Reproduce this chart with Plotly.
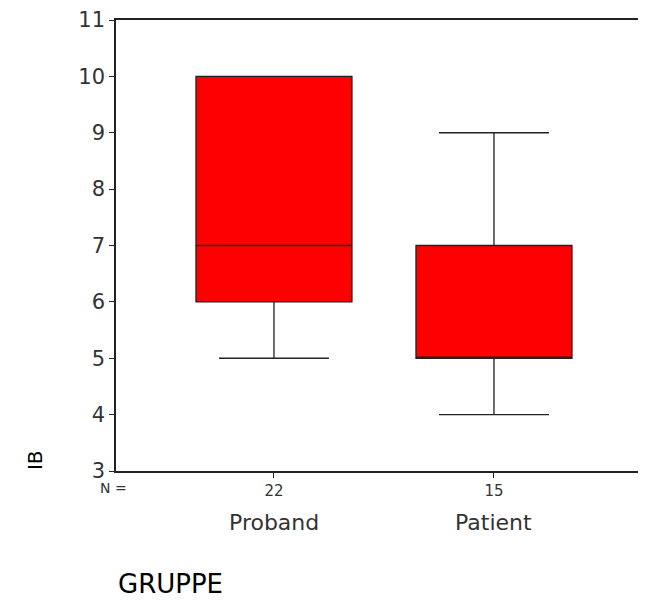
import plotly.graph_objects as go

groups = ["Proband", "Patient"]
n_values = [22, 15]
positions = [0, 1]
lower_fence = [5, 4]
q1 = [6, 5]
median = [7, 5]
q3 = [10, 7]
upper_fence = [10, 9]
y_ticks = [3, 4, 5, 6, 7, 8, 9, 10, 11]

FONT = "DejaVu Sans"
LABEL_COLOR = "#333333"

fig = go.Figure()
fig.add_trace(go.Box(
    x=positions,
    q1=q1, median=median, q3=q3,
    lowerfence=lower_fence, upperfence=upper_fence,
    boxpoints=False,
    width=0.709,
    whiskerwidth=0.705,
    fillcolor="#ff0000",
    line=dict(color="#222222", width=1.3),
    hoverinfo="skip",
    showlegend=False,
))

# page body adds an 8px offset, so the figure is 8px smaller and margins shifted
fig.update_layout(
    width=638, height=593,
    margin=dict(l=108, r=0, t=10, b=130),
    paper_bgcolor="white", plot_bgcolor="white",
    font=dict(family=FONT, color=LABEL_COLOR),
    xaxis=dict(
        range=[-0.718, 1.691],
        tickvals=positions,
        ticktext=[str(v) for v in n_values],
        ticks="outside", ticklen=5, tickwidth=1.3, tickcolor="#222222",
        showline=True, linecolor="#222222", linewidth=1.5,
        mirror=True, showgrid=False, zeroline=False,
        tickfont=dict(size=15, color=LABEL_COLOR, family=FONT),
    ),
    yaxis=dict(
        range=[3, 11],
        tickvals=y_ticks,
        ticks="outside", ticklen=5, tickwidth=1.3, tickcolor="#222222",
        showline=True, linecolor="#222222", linewidth=1.5,
        showgrid=False, zeroline=False,
        ticklabeloverflow="allow",
        tickfont=dict(size=21, color=LABEL_COLOR, family=FONT),
    ),
)

annotations = []
for pos, name in zip(positions, groups):
    annotations.append(dict(
        x=pos, xref="x", y=0, yref="paper", yshift=-51,
        text=name, showarrow=False, xanchor="center", yanchor="middle",
        font=dict(size=22, color=LABEL_COLOR, family=FONT),
    ))
annotations.append(dict(
    x=-0.034, xref="paper", y=0, yref="paper", yshift=-17,
    text="N =", showarrow=False, xanchor="left", yanchor="middle",
    font=dict(size=14, color=LABEL_COLOR, family=FONT),
))
annotations.append(dict(
    x=0.0, xref="paper", y=0, yref="paper", yshift=-113,
    text="GRUPPE", showarrow=False, xanchor="left", yanchor="middle",
    font=dict(size=26, color="#000000", family=FONT),
))
annotations.append(dict(
    x=-0.153, xref="paper", y=0.024, yref="paper",
    text="IB", textangle=-90, showarrow=False, xanchor="center", yanchor="middle",
    font=dict(size=20, color="#000000", family=FONT),
))
fig.update_layout(annotations=annotations)

fig.write_html("out.html")
